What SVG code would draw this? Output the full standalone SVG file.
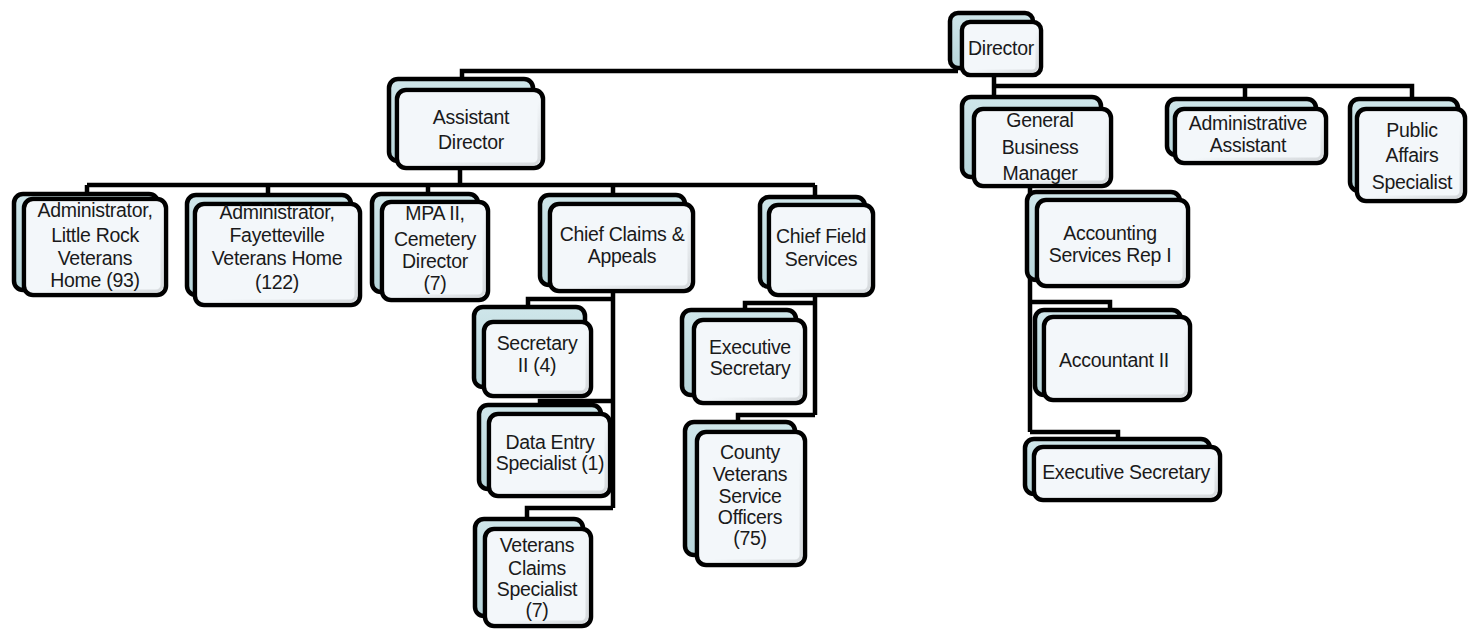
<svg xmlns="http://www.w3.org/2000/svg" width="1468" height="634" viewBox="0 0 1468 634">
<defs>
<linearGradient id="sh" x1="0" y1="0" x2="1" y2="1">
<stop offset="0" stop-color="#f3f7fa"/>
<stop offset="0.55" stop-color="#f3f7fa"/>
<stop offset="1" stop-color="#d6dadd"/>
</linearGradient>
<linearGradient id="bk" x1="0" y1="0" x2="0" y2="1">
<stop offset="0" stop-color="#cfe6ea"/>
<stop offset="1" stop-color="#b7d5da"/>
</linearGradient>
</defs>
<style>
.b{fill:url(#bk);stroke:#000;stroke-width:4.5}
.f{fill:#f3f7fa;stroke:#000;stroke-width:4.5}
.s{fill:none;stroke:url(#sh);stroke-width:3}
.t{font-family:"Liberation Sans",Arial,sans-serif;font-size:19.5px;letter-spacing:-0.3px;fill:#1a1a1a;text-anchor:middle}
.c{fill:none;stroke:#000;stroke-width:4.5;stroke-linejoin:miter}
</style>
<rect width="1468" height="634" fill="#fff"/>
<g id="connectors">
<path class="c" d="M462 80V71H958"/>
<path class="c" d="M994 75V86H1412V99M994 86V98M1245 86V99"/>
<path class="c" d="M460 168V185M87 185H815M87 185V195M268 185V196M428 185V195M613 185V196M815 185V198"/>
<path class="c" d="M613 291V508M613 299H528V308M613 401H540V406M613 508H527V520"/>
<path class="c" d="M815 295V415M815 303H745V311M815 415H738V423"/>
<path class="c" d="M1030 186V432M1030 302H1110V311M1030 432H1118V440"/>
</g>
<g id="n-director">
<rect class="b" x="950" y="13" width="83" height="55" rx="8"/>
<rect class="f" x="962" y="22" width="79" height="53" rx="8"/>
<rect class="s" x="966" y="26" width="71" height="45" rx="5"/>
<text class="t" x="1001" y="55">Director</text>
</g>
<g id="n-assistant-director">
<rect class="b" x="389" y="79" width="144" height="82" rx="9"/>
<rect class="f" x="397" y="90" width="146" height="78" rx="9"/>
<rect class="s" x="401" y="94" width="138" height="70" rx="6"/>
<text class="t" x="471" y="124">Assistant</text>
<text class="t" x="471" y="149">Director</text>
</g>
<g id="n-admin-little-rock">
<rect class="b" x="14" y="194" width="144" height="96" rx="9"/>
<rect class="f" x="24" y="199" width="142" height="96" rx="9"/>
<rect class="s" x="28" y="203" width="134" height="88" rx="6"/>
<text class="t" x="95" y="217">Administrator,</text>
<text class="t" x="95" y="242">Little Rock</text>
<text class="t" x="95" y="265">Veterans</text>
<text class="t" x="95" y="287">Home (93)</text>
</g>
<g id="n-admin-fayetteville">
<rect class="b" x="187" y="195" width="164" height="100" rx="9"/>
<rect class="f" x="195" y="204" width="165" height="101" rx="9"/>
<rect class="s" x="199" y="208" width="157" height="93" rx="6"/>
<text class="t" x="277" y="219">Administrator,</text>
<text class="t" x="277" y="242">Fayetteville</text>
<text class="t" x="277" y="265">Veterans Home</text>
<text class="t" x="277" y="289">(122)</text>
</g>
<g id="n-mpa">
<rect class="b" x="372" y="194" width="106" height="98" rx="9"/>
<rect class="f" x="382" y="202" width="106" height="98" rx="9"/>
<rect class="s" x="386" y="206" width="98" height="90" rx="6"/>
<text class="t" x="435" y="220">MPA II,</text>
<text class="t" x="435" y="246">Cemetery</text>
<text class="t" x="435" y="268">Director</text>
<text class="t" x="435" y="290">(7)</text>
</g>
<g id="n-chief-claims">
<rect class="b" x="540" y="195" width="145" height="90" rx="9"/>
<rect class="f" x="550" y="204" width="143" height="87" rx="9"/>
<rect class="s" x="554" y="208" width="135" height="79" rx="6"/>
<text class="t" x="622" y="241">Chief Claims &amp;</text>
<text class="t" x="622" y="263">Appeals</text>
</g>
<g id="n-chief-field">
<rect class="b" x="760" y="197" width="105" height="90" rx="9"/>
<rect class="f" x="769" y="205" width="104" height="90" rx="9"/>
<rect class="s" x="773" y="209" width="96" height="82" rx="6"/>
<text class="t" x="821" y="243">Chief Field</text>
<text class="t" x="821" y="266">Services</text>
</g>
<g id="n-secretary-ii">
<rect class="b" x="474" y="307" width="111" height="80" rx="9"/>
<rect class="f" x="484" y="322" width="107" height="74" rx="9"/>
<rect class="s" x="488" y="326" width="99" height="66" rx="6"/>
<text class="t" x="537" y="350">Secretary</text>
<text class="t" x="537" y="372">II (4)</text>
</g>
<g id="n-data-entry">
<rect class="b" x="479" y="405" width="122" height="84" rx="9"/>
<rect class="f" x="489" y="414" width="121" height="82" rx="9"/>
<rect class="s" x="493" y="418" width="113" height="74" rx="6"/>
<text class="t" x="550" y="449">Data Entry</text>
<text class="t" x="550" y="470">Specialist (1)</text>
</g>
<g id="n-veterans-claims">
<rect class="b" x="475" y="519" width="108" height="97" rx="9"/>
<rect class="f" x="485" y="529" width="106" height="97" rx="9"/>
<rect class="s" x="489" y="533" width="98" height="89" rx="6"/>
<text class="t" x="537" y="552">Veterans</text>
<text class="t" x="537" y="575">Claims</text>
<text class="t" x="537" y="596">Specialist</text>
<text class="t" x="537" y="617">(7)</text>
</g>
<g id="n-exec-sec-field">
<rect class="b" x="682" y="310" width="114" height="85" rx="9"/>
<rect class="f" x="694" y="320" width="111" height="83" rx="9"/>
<rect class="s" x="698" y="324" width="103" height="75" rx="6"/>
<text class="t" x="750" y="354">Executive</text>
<text class="t" x="750" y="375">Secretary</text>
</g>
<g id="n-county">
<rect class="b" x="685" y="422" width="110" height="133" rx="9"/>
<rect class="f" x="697" y="432" width="108" height="133" rx="9"/>
<rect class="s" x="701" y="436" width="100" height="125" rx="6"/>
<text class="t" x="750" y="459">County</text>
<text class="t" x="750" y="481">Veterans</text>
<text class="t" x="750" y="503">Service</text>
<text class="t" x="750" y="524">Officers</text>
<text class="t" x="750" y="545">(75)</text>
</g>
<g id="n-gbm">
<rect class="b" x="962" y="97" width="139" height="80" rx="9"/>
<rect class="f" x="974" y="109" width="137" height="77" rx="9"/>
<rect class="s" x="978" y="113" width="129" height="69" rx="6"/>
<text class="t" x="1040" y="127">General</text>
<text class="t" x="1040" y="154">Business</text>
<text class="t" x="1040" y="180">Manager</text>
</g>
<g id="n-admin-assistant">
<rect class="b" x="1167" y="99" width="149" height="56" rx="9"/>
<rect class="f" x="1175" y="109" width="151" height="54" rx="9"/>
<rect class="s" x="1179" y="113" width="143" height="46" rx="6"/>
<text class="t" x="1248" y="130">Administrative</text>
<text class="t" x="1248" y="152">Assistant</text>
</g>
<g id="n-public-affairs">
<rect class="b" x="1350" y="99" width="108" height="92" rx="9"/>
<rect class="f" x="1357" y="109" width="108" height="92" rx="9"/>
<rect class="s" x="1361" y="113" width="100" height="84" rx="6"/>
<text class="t" x="1412" y="137">Public</text>
<text class="t" x="1412" y="162">Affairs</text>
<text class="t" x="1412" y="189">Specialist</text>
</g>
<g id="n-accounting-rep">
<rect class="b" x="1027" y="192" width="153" height="88" rx="9"/>
<rect class="f" x="1037" y="200" width="151" height="86" rx="9"/>
<rect class="s" x="1041" y="204" width="143" height="78" rx="6"/>
<text class="t" x="1110" y="240">Accounting</text>
<text class="t" x="1110" y="262">Services Rep I</text>
</g>
<g id="n-accountant-ii">
<rect class="b" x="1035" y="310" width="146" height="85" rx="9"/>
<rect class="f" x="1044" y="317" width="146" height="83" rx="9"/>
<rect class="s" x="1048" y="321" width="138" height="75" rx="6"/>
<text class="t" x="1114" y="367">Accountant II</text>
</g>
<g id="n-exec-sec-acct">
<rect class="b" x="1025" y="439" width="185" height="55" rx="9"/>
<rect class="f" x="1034" y="447" width="186" height="53" rx="9"/>
<rect class="s" x="1038" y="451" width="178" height="45" rx="6"/>
<text class="t" x="1126" y="479">Executive Secretary</text>
</g>
</svg>
